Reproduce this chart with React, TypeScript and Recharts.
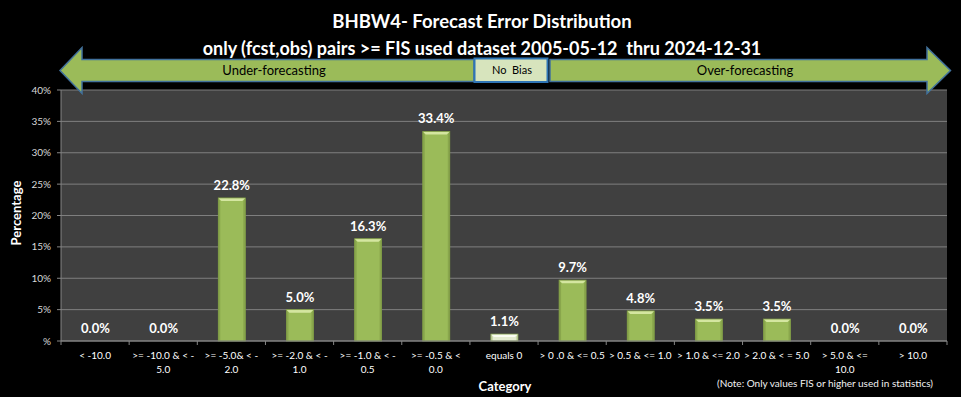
import React from 'react';
import { BarChart, Bar, XAxis, YAxis, CartesianGrid, Cell, LabelList } from 'recharts';

const categories = [
  '< -10.0',
  '>= -10.0 & < -\n5.0',
  '>= -5.0& < -\n2.0',
  '>= -2.0 & < -\n1.0',
  '>= -1.0 & < -\n0.5',
  '>= -0.5 & <\n0.0',
  'equals 0',
  '> 0 .0 & <= 0.5',
  '> 0.5 & <= 1.0',
  '> 1.0 & <= 2.0',
  '> 2.0 & < = 5.0',
  '> 5.0 & <=\n10.0',
  '> 10.0',
];
const percentages = [0.0, 0.0, 22.8, 5.0, 16.3, 33.4, 1.1, 9.7, 4.8, 3.5, 3.5, 0.0, 0.0];
const yTicks = [0, 5, 10, 15, 20, 25, 30, 35, 40];
const noBiasCategory = 'equals 0';

const data = categories.map((c, i) => ({ category: c, value: percentages[i] }));

const W = 961;
const H = 397;
const M = { top: 90, right: 14, left: 0, bottom: 0 };
const Y_AXIS_W = 61;
const X_AXIS_H = 56;
const PLOT_LEFT = M.left + Y_AXIS_W;
const PLOT_W = W - PLOT_LEFT - M.right;
const BAND = PLOT_W / categories.length;
const AXIS_Y = H - M.bottom - X_AXIS_H;
const FONT = 'Lato, "Open Sans", "Noto Sans", sans-serif';

const BevelBar = (props: any) => {
  const { x, y, width, height, payload } = props;
  if (!height || height <= 0) return null;
  const light = payload && payload.category === noBiasCategory;
  const main = light ? '#E4ECD0' : '#9BBB59';
  const top = light ? '#FAFDF2' : '#D4E6A0';
  const side = light ? '#C9D7AA' : '#89A64C';
  const edge = light ? '#8FAA5A' : '#7E9A45';
  const b = Math.min(3, height / 2);
  return (
    <g>
      <rect x={x} y={y} width={width} height={height} fill={main} />
      <polygon points={`${x},${y} ${x + 2},${y + b} ${x + 2},${y + height} ${x},${y + height}`} fill={side} />
      <polygon points={`${x + width},${y} ${x + width - 2},${y + b} ${x + width - 2},${y + height} ${x + width},${y + height}`} fill={side} />
      <polygon points={`${x},${y} ${x + width},${y} ${x + width - 3},${y + b} ${x + 3},${y + b}`} fill={top} />
      <rect x={x} y={y} width={width} height={height} fill="none" stroke={edge} strokeWidth={0.8} />
    </g>
  );
};

const XTick = (props: any) => {
  const { x, payload, index } = props;
  const lines = String(payload.value).split('\n');
  return (
    <g>
      <line x1={x - BAND / 2} y1={AXIS_Y} x2={x - BAND / 2} y2={AXIS_Y + 4} stroke="#868686" />
      {index === categories.length - 1 && (
        <line x1={x + BAND / 2} y1={AXIS_Y} x2={x + BAND / 2} y2={AXIS_Y + 4} stroke="#868686" />
      )}
      {lines.map((l, i) => (
        <text key={i} x={x} y={AXIS_Y + 18 + i * 14} textAnchor="middle" fill="#FFFFFF" fontSize={10} fontFamily={FONT}>
          {l}
        </text>
      ))}
    </g>
  );
};

export default function App() {
  return (
    <div style={{ position: 'absolute', left: 0, top: 0, width: W, height: H, background: '#000' }}>
      <BarChart width={W} height={H} data={data} margin={M}>
        <CartesianGrid horizontal vertical={false} stroke="#7F7F7F" fill="#404040" strokeWidth={1} />
        <XAxis
          dataKey="category"
          interval={0}
          height={X_AXIS_H}
          axisLine={{ stroke: '#868686' }}
          tickLine={false}
          tick={<XTick />}
        />
        <YAxis
          domain={[0, 40]}
          ticks={yTicks}
          width={Y_AXIS_W}
          axisLine={{ stroke: '#868686' }}
          tickLine={{ stroke: '#868686' }}
          tickSize={4}
          tickMargin={6}
          tick={{ fill: '#D9D9D9', fontSize: 10, fontFamily: FONT }}
          tickFormatter={(v: number) => (v === 0 ? '%' : `${v}%`)}
        />
        <Bar dataKey="value" barSize={27} isAnimationActive={false} shape={<BevelBar />}>
          {data.map((d, i) => (
            <Cell key={i} fill={d.category === noBiasCategory ? '#E4ECD0' : '#9BBB59'} />
          ))}
          <LabelList
            dataKey="value"
            position="top"
            offset={8}
            fill="#FFFFFF"
            fontSize={13}
            fontWeight="bold"
            fontFamily={FONT}
            formatter={(v: any) => `${Number(v).toFixed(1)}%`}
          />
        </Bar>
      </BarChart>
      <svg width={W} height={H} style={{ position: 'absolute', left: 0, top: 0, pointerEvents: 'none' }}>
        <text x={482} y={28} textAnchor="middle" fill="#FFFFFF" fontSize={18.5} fontWeight="bold" fontFamily={FONT}>
          BHBW4- Forecast Error Distribution
        </text>
        <text x={482} y={55} textAnchor="middle" fill="#FFFFFF" fontSize={18} fontWeight="bold" fontFamily={FONT} xmlSpace="preserve">
          {'only (fcst,obs) pairs >= FIS used dataset 2005-05-12  thru 2024-12-31'}
        </text>
        <polygon
          points="60,70.5 82,47.5 82,59.5 474,59.5 474,81.5 82,81.5 82,93.5"
          fill="#9BBB59"
          stroke="#41719C"
          strokeWidth={1.5}
        />
        <polygon
          points="550,59.5 927,59.5 927,47.5 950.5,70.5 927,93.5 927,81.5 550,81.5"
          fill="#9BBB59"
          stroke="#41719C"
          strokeWidth={1.5}
        />
        <rect x={474.5} y={58.5} width={73} height={23.5} fill="#D7E4BD" stroke="#2F75B5" strokeWidth={2} />
        <text x={274} y={75} textAnchor="middle" fill="#000" fontSize={13} fontFamily={FONT}>Under-forecasting</text>
        <text x={745} y={75} textAnchor="middle" fill="#000" fontSize={13} fontFamily={FONT}>Over-forecasting</text>
        <text x={512} y={74} textAnchor="middle" fill="#000" fontSize={11} fontFamily={FONT} xmlSpace="preserve">{'No  Bias'}</text>
        <text x={17} y={213} textAnchor="middle" fill="#FFFFFF" fontSize={13} fontWeight="bold" fontFamily={FONT} transform="rotate(-90 17 213)" dy={4}>
          Percentage
        </text>
        <text x={505} y={391} textAnchor="middle" fill="#FFFFFF" fontSize={13} fontWeight="bold" fontFamily={FONT}>Category</text>
        <text x={825} y={387} textAnchor="middle" fill="#F2F2F2" fontSize={10} fontFamily={FONT}>
          (Note: Only values FIS or higher used in statistics)
        </text>
      </svg>
    </div>
  );
}
